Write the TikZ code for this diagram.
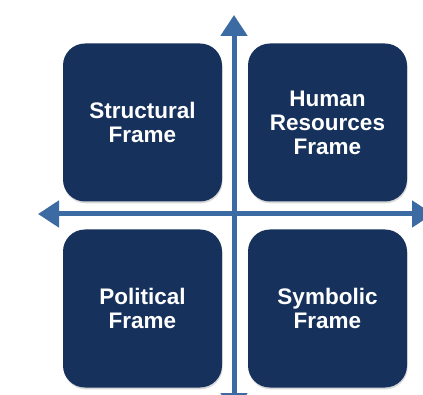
\documentclass[tikz,border=0pt]{standalone}
\usepackage{fontspec}
\setmainfont{Liberation Sans}
\usetikzlibrary{arrows.meta,shadows}

\definecolor{framenavy}{RGB}{22,50,92}
\definecolor{axisblue}{RGB}{60,106,162}

\tikzset{
  framebox/.style={fill=framenavy, rounded corners=22pt, minimum width=159pt,
    minimum height=158pt, align=center, text=white,
    font=\fontsize{22.5}{24}\selectfont\bfseries,
    drop shadow={shadow xshift=0.6pt, shadow yshift=-1.8pt, opacity=0.3}},
  axis/.style={draw=axisblue, line width=5pt,
    {Triangle[width=26pt,length=21pt]}-{Triangle[width=26pt,length=21pt]}}
}

\begin{document}
\begin{tikzpicture}[x=1pt,y=-1pt]
    % page size, axes run past the edges
    \clip (0,0) rectangle (423,395);
    \fill[white] (0,0) rectangle (423,395);

    % the two axes
    \coordinate (left)   at (38,214);
    \coordinate (right)  at (433,214);
    \coordinate (top)    at (234,15);
    \coordinate (bottom) at (234,414);
    \draw[axis] (left) -- (right);
    \draw[axis] (bottom) -- (top);

    % four frames, one per quadrant
    \node[framebox] (structural) at (142.5,122.5) {Structural\\Frame};
    \node[framebox] (human)      at (327.5,122.5) {Human\\Resources\\Frame};
    \node[framebox] (political)  at (142.5,308.5) {Political\\Frame};
    \node[framebox] (symbolic)   at (327.5,308.5) {Symbolic\\Frame};
\end{tikzpicture}
\end{document}
